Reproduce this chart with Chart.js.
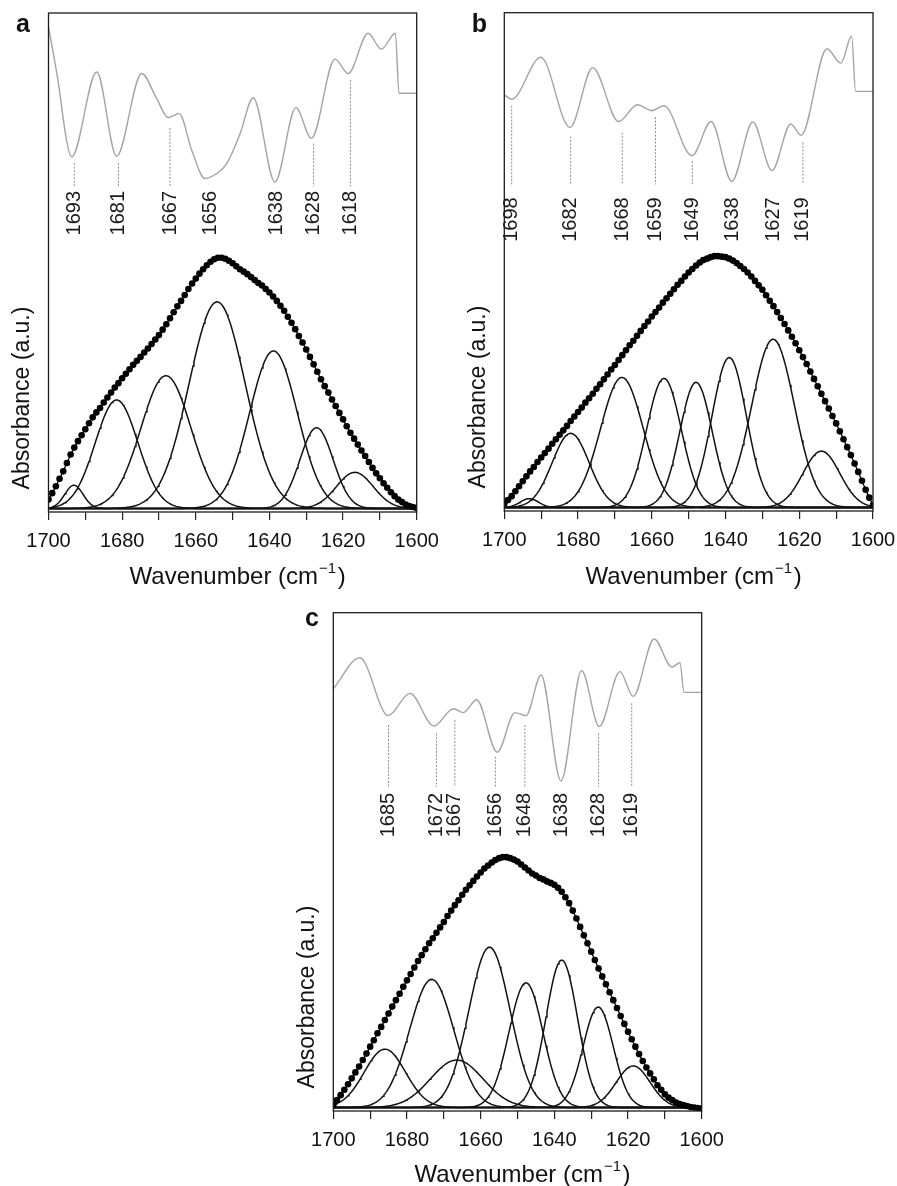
<!DOCTYPE html>
<html>
<head>
<meta charset="utf-8">
<script src="https://cdn.jsdelivr.net/npm/chart.js@4.4.0/dist/chart.umd.min.js"></script>
<style>
  html, body { margin: 0; padding: 0; background: #fff; }
  body { width: 897px; height: 1186px; position: relative; overflow: hidden; }
  canvas { position: absolute; }
</style>
</head>
<body>
<canvas id="panelA" width="450" height="595" style="left:0px;top:0px"></canvas>
<canvas id="panelB" width="445" height="595" style="left:452px;top:0px"></canvas>
<canvas id="panelC" width="450" height="588" style="left:280px;top:598px"></canvas>
<script>
// ---- Amide I region, 1700 -> 1600 cm-1, one spectrum point per cm-1 ----
const WN_HIGH = 1700;
const WN_LOW = 1600;
const xTicks = [1700, 1680, 1660, 1640, 1620, 1600];

// Measured absorbance (a.u.), sample a
const spectrumA = [
  1.8, 3.1, 4.5, 6.0, 7.5, 9.2, 10.9, 12.3, 13.6, 14.8,
  16.0, 17.2, 18.4, 19.4, 20.3, 21.4, 22.4, 23.4, 24.4, 25.3,
  26.3, 27.2, 28.1, 29.0, 29.8, 30.6, 31.5, 32.3, 33.2, 34.1,
  35.0, 36.1, 37.2, 38.4, 39.6, 40.8, 41.9, 43.1, 44.3, 45.4,
  46.4, 47.4, 48.3, 49.1, 49.8, 50.3, 50.6, 50.6, 50.4, 50.0,
  49.5, 48.9, 48.3, 47.8, 47.3, 46.7, 46.1, 45.5, 45.0, 44.3,
  43.6, 42.8, 41.9, 40.9, 39.9, 38.7, 37.5, 36.2, 34.8, 33.5,
  32.1, 30.6, 29.1, 27.6, 26.1, 24.7, 23.4, 22.0, 20.7, 19.3,
  18.0, 16.6, 15.3, 14.1, 12.9, 11.7, 10.6, 9.4, 8.2, 7.1,
  6.1, 5.1, 4.2, 3.3, 2.5, 1.8, 1.3, 0.8, 0.5, 0.3,
  0.1
];
// Measured absorbance (a.u.), sample b
const spectrumB = [
  0.8, 1.5, 2.3, 3.3, 4.3, 5.3, 6.3, 7.3, 8.2, 9.2,
  10.1, 11.0, 11.9, 12.9, 13.8, 14.7, 15.6, 16.5, 17.5, 18.4,
  19.3, 20.2, 21.2, 22.1, 23.0, 24.0, 24.9, 25.9, 26.9, 27.9,
  28.8, 29.8, 30.8, 31.8, 32.8, 33.7, 34.7, 35.7, 36.7, 37.6,
  38.6, 39.5, 40.4, 41.4, 42.3, 43.2, 44.1, 45.0, 45.8, 46.7,
  47.5, 48.2, 48.9, 49.5, 50.0, 50.3, 50.6, 50.8, 50.8, 50.7,
  50.6, 50.3, 49.9, 49.4, 48.8, 48.2, 47.5, 46.7, 45.8, 44.9,
  44.0, 42.9, 41.8, 40.7, 39.5, 38.3, 37.1, 35.8, 34.5, 33.2,
  31.8, 30.4, 29.0, 27.5, 26.0, 24.5, 23.0, 21.5, 20.0, 18.5,
  17.0, 15.4, 13.8, 12.2, 10.6, 8.9, 7.2, 5.4, 3.6, 2.0,
  0.5
];
// Measured absorbance (a.u.), sample c
const spectrumC = [
  0.5, 1.5, 2.5, 3.6, 4.7, 5.9, 7.1, 8.3, 9.6, 10.9,
  12.3, 13.6, 15.0, 16.3, 17.7, 19.0, 20.4, 21.7, 23.0, 24.4,
  25.7, 27.0, 28.3, 29.6, 30.8, 32.0, 33.2, 34.2, 35.3, 36.4,
  37.5, 38.7, 39.8, 40.9, 41.9, 43.0, 44.0, 44.9, 45.8, 46.7,
  47.5, 48.3, 48.9, 49.5, 50.0, 50.4, 50.6, 50.6, 50.4, 50.1,
  49.7, 49.1, 48.5, 47.9, 47.3, 46.9, 46.4, 46.1, 45.7, 45.4,
  45.0, 44.4, 43.6, 42.5, 41.3, 39.8, 38.2, 36.5, 34.8, 33.2,
  31.5, 29.8, 28.1, 26.5, 24.9, 23.3, 21.7, 20.1, 18.5, 16.9,
  15.3, 13.8, 12.3, 10.8, 9.4, 8.1, 6.9, 5.7, 4.5, 3.6,
  2.7, 2.0, 1.5, 1.0, 0.7, 0.5, 0.3, 0.1, 0.0, -0.1,
  -0.2
];

// Fitted Gaussian bands: centre (cm-1), peak height (a.u.), sigma (cm-1)
const bandCentreA = [1693.1, 1681.5, 1668.1, 1654.2, 1638.9, 1627.2, 1616.8];
const bandHeightA = [4.7, 21.9, 26.8, 41.7, 31.8, 16.3, 7.3];
const bandSigmaA  = [2.5, 5.8, 6.8, 7.6, 6.5, 4.5, 5.0];

const bandCentreB = [1693.2, 1682.0, 1668.1, 1656.7, 1648.0, 1639.0, 1627.1, 1614.0];
const bandHeightB = [1.8, 15.0, 26.3, 26.1, 25.3, 30.3, 34.0, 11.4];
const bandSigmaB  = [2.5, 5.0, 5.8, 4.7, 4.4, 4.7, 5.8, 5.0];

const bandCentreC = [1686.0, 1673.3, 1666.5, 1657.6, 1647.7, 1638.0, 1628.1, 1618.6];
const bandHeightC = [11.8, 25.9, 9.6, 32.4, 25.2, 29.8, 20.3, 8.4];
const bandSigmaC  = [5.6, 6.0, 7.1, 5.6, 4.6, 4.3, 4.1, 4.6];

// Second-derivative trace (offset above the spectrum): wavenumber / value
const derivWnA  = [1700, 1697.3, 1695.1, 1693.7, 1686.9, 1681.5, 1674.7, 1670.6, 1667.5, 1664.5, 1661.1, 1657.5, 1654.3, 1651.6, 1648.0, 1644.4, 1638.5, 1632.8, 1628.6, 1622.2, 1618.6, 1613.2, 1609.6, 1605.8, 1604.8, 1600];
const derivValA = [97.2, 85.8, 74.3, 71.0, 88.1, 71.1, 87.8, 82.7, 78.9, 79.7, 72.3, 66.6, 67.6, 69.6, 75.6, 82.9, 65.9, 80.9, 74.7, 90.7, 87.8, 95.9, 92.7, 95.9, 83.8, 83.8];

const derivWnB  = [1700, 1698.0, 1690.1, 1682.2, 1676.0, 1669.0, 1663.9, 1660.0, 1656.7, 1649.1, 1643.9, 1638.3, 1632.6, 1627.4, 1622.3, 1619.5, 1612.5, 1608.7, 1605.8, 1604.7, 1600];
const derivValB = [83.4, 82.5, 91.0, 76.8, 88.9, 78.0, 81.4, 80.2, 81.2, 71.1, 78.0, 65.9, 77.9, 68.1, 77.5, 75.2, 92.7, 89.8, 95.3, 84.1, 84.1];

const derivWnC  = [1700, 1692.8, 1685.1, 1679.2, 1672.7, 1667.4, 1664.7, 1661.1, 1655.5, 1650.7, 1647.7, 1643.6, 1638.2, 1632.6, 1627.8, 1622.2, 1618.6, 1612.9, 1608.1, 1605.9, 1604.8, 1600];
const derivValC = [84.6, 90.9, 79.2, 83.7, 77.1, 80.6, 79.8, 82.4, 71.8, 79.8, 79.2, 87.4, 66.0, 88.3, 77.0, 88.1, 83.1, 94.7, 89.0, 89.9, 83.9, 83.9];

// Assigned second-derivative minima (cm-1) and the top/bottom of their guide lines
const minimaA   = [1693, 1681, 1667, 1656, 1638, 1628, 1618];
const guideTopA = [69.7, 69.7, 76.8, null, null, 73.6, 86.5];
const guideEndA = 65.0;

const minimaB   = [1698, 1682, 1668, 1659, 1649, 1638, 1627, 1619];
const guideTopB = [81.2, 75.0, 75.8, 78.9, 70.0, null, null, 73.8];
const guideEndB = 65.3;

const minimaC   = [1685, 1672, 1667, 1656, 1648, 1638, 1628, 1619];
const guideTopC = [77.3, 75.6, 78.3, 70.9, 77.3, null, 75.6, 81.7];
const guideEndC = 64.8;

// ---------------------------------------------------------------
const FONT = '"Liberation Sans", Arial, Helvetica, sans-serif';
Chart.defaults.font.family = FONT;
Chart.defaults.color = '#111';

function gaussianPoints(c, h, s) {
  const pts = [];
  for (let x = WN_HIGH; x >= WN_LOW - 1e-9; x -= 0.25) {
    pts.push({ x: x, y: h * Math.exp(-((x - c) * (x - c)) / (2 * s * s)) });
  }
  return pts;
}

// frame, panel letter, axis titles and minima labels
const panelText = {
  id: 'panelText',
  afterDatasetsDraw(chart, args, o) {
    const { ctx, chartArea: ca, scales } = chart;
    const xs = scales.x, ys = scales.y;
    ctx.save();
    ctx.strokeStyle = '#1c1c1c';
    ctx.lineWidth = 1.3;
    ctx.strokeRect(ca.left, ca.top, ca.right - ca.left, ca.bottom - ca.top);

    // panel letter
    ctx.fillStyle = '#111';
    ctx.font = 'bold 25px ' + FONT;
    ctx.textAlign = 'left';
    ctx.textBaseline = 'alphabetic';
    ctx.fillText(o.letter, ca.left + o.letterDx, ca.top + o.letterDy);

    // x title with superscript unit
    const main = 'Wavenumber (cm', sup = '\u22121', close = ')';
    ctx.font = '24px ' + FONT;
    const wMain = ctx.measureText(main).width;
    const wClose = ctx.measureText(close).width;
    ctx.font = '15px ' + FONT;
    const wSup = ctx.measureText(sup).width;
    const total = wMain + 1 + wSup + 1.5 + wClose;
    let tx = (ca.left + ca.right) / 2 + 5 - total / 2;
    const base = ca.bottom + o.titleDy;
    ctx.font = '24px ' + FONT;
    ctx.fillText(main, tx, base);
    tx += wMain + 1;
    ctx.font = '15px ' + FONT;
    ctx.fillText(sup, tx, base - 11);
    tx += wSup + 1.5;
    ctx.font = '24px ' + FONT;
    ctx.fillText(close, tx, base);

    // y title
    ctx.save();
    ctx.font = '23px ' + FONT;
    ctx.translate(ca.left - 26, ca.bottom - 114);
    ctx.rotate(-Math.PI / 2);
    ctx.textAlign = 'center';
    ctx.textBaseline = 'middle';
    ctx.fillText('Absorbance (a.u.)', 0, 0);
    ctx.restore();

    // minima labels
    ctx.font = '20px ' + FONT;
    ctx.fillStyle = '#1a1a1a';
    o.minima.forEach(wn => {
      ctx.save();
      ctx.translate(xs.getPixelForValue(wn), ys.getPixelForValue(o.labelTop));
      ctx.rotate(-Math.PI / 2);
      ctx.textAlign = 'right';
      ctx.textBaseline = 'middle';
      ctx.fillText(String(wn), 0, 0);
      ctx.restore();
    });
    ctx.restore();
  }
};

function buildPanel(id, cfg) {
  const datasets = [];
  // second derivative
  datasets.push({
    data: cfg.derivWn.map((w, i) => ({ x: w, y: cfg.derivVal[i] })),
    borderColor: '#a4a4a4', borderWidth: 1.4, pointRadius: 0,
    cubicInterpolationMode: 'monotone', order: 4
  });
  // dashed guides below the minima
  cfg.minima.forEach((wn, i) => {
    if (cfg.guideTop[i] === null) return;
    datasets.push({
      data: [{ x: wn, y: cfg.guideTop[i] }, { x: wn, y: cfg.guideEnd }],
      borderColor: '#8e8e8e', borderWidth: 1, borderDash: [2, 1.5],
      pointRadius: 0, order: 3
    });
  });
  // component bands
  cfg.centre.forEach((c, i) => {
    datasets.push({
      data: gaussianPoints(c, cfg.height[i], cfg.sigma[i]),
      borderColor: '#111', borderWidth: 1.5, pointRadius: 0, tension: 0, order: 2
    });
  });
  // measured spectrum with fitted envelope
  datasets.push({
    data: cfg.spectrum.map((v, i) => ({ x: WN_HIGH - i, y: v })),
    borderColor: '#000', borderWidth: 1.3,
    pointRadius: 3.3, pointBackgroundColor: '#000', pointBorderWidth: 0,
    tension: 0, order: 1
  });

  return new Chart(document.getElementById(id), {
    type: 'line',
    data: { datasets },
    plugins: [panelText],
    options: {
      responsive: false,
      animation: false,
      events: [],
      layout: { padding: cfg.padding },
      plugins: {
        legend: { display: false },
        tooltip: { enabled: false },
        panelText: {
          letter: cfg.letter, letterDx: cfg.letterDx, letterDy: cfg.letterDy,
          titleDy: cfg.titleDy, minima: cfg.minima, labelTop: cfg.labelTop
        }
      },
      scales: {
        x: {
          type: 'linear', min: WN_LOW, max: WN_HIGH, reverse: true,
          afterFit: s => { s.height = cfg.axisHeight; s.paddingLeft = 0; s.paddingRight = 0; },
          afterBuildTicks: s => {
            const t = [];
            for (let v = WN_HIGH; v >= WN_LOW; v -= 10) t.push({ value: v });
            s.ticks = t;
          },
          ticks: {
            autoSkip: false, maxRotation: 0, padding: 9,
            font: { size: 20, lineHeight: 1.2 }, color: '#111',
            callback: v => xTicks.includes(v) ? String(v) : ''
          },
          grid: { display: true, drawOnChartArea: false, drawTicks: true, tickLength: 8, color: '#222', lineWidth: 1.2 },
          border: { display: false },
          title: { display: false }
        },
        y: { type: 'linear', min: -0.7, max: 100, display: false }
      }
    }
  });
}

buildPanel('panelA', {
  letter: 'a', letterDx: -32.5, letterDy: 19, titleDy: 72,
  padding: { left: 48.5, top: 13, right: 33.3, bottom: 0 }, axisHeight: 83,
  spectrum: spectrumA, centre: bandCentreA, height: bandHeightA, sigma: bandSigmaA,
  derivWn: derivWnA, derivVal: derivValA,
  minima: minimaA, guideTop: guideTopA, guideEnd: guideEndA, labelTop: 64.1
});
buildPanel('panelB', {
  letter: 'b', letterDx: -32.6, letterDy: 19, titleDy: 73,
  padding: { left: 52.3, top: 12.7, right: 24, bottom: 0 }, axisHeight: 84,
  spectrum: spectrumB, centre: bandCentreB, height: bandHeightB, sigma: bandSigmaB,
  derivWn: derivWnB, derivVal: derivValB,
  minima: minimaB, guideTop: guideTopB, guideEnd: guideEndB, labelTop: 62.7
});
buildPanel('panelC', {
  letter: 'c', letterDx: -28.3, letterDy: 13.5, titleDy: 71,
  padding: { left: 53.3, top: 14.7, right: 28.3, bottom: 0 }, axisHeight: 75,
  spectrum: spectrumC, centre: bandCentreC, height: bandHeightC, sigma: bandSigmaC,
  derivWn: derivWnC, derivVal: derivValC,
  minima: minimaC, guideTop: guideTopC, guideEnd: guideEndC, labelTop: 63.6
});
</script>
</body>
</html>
